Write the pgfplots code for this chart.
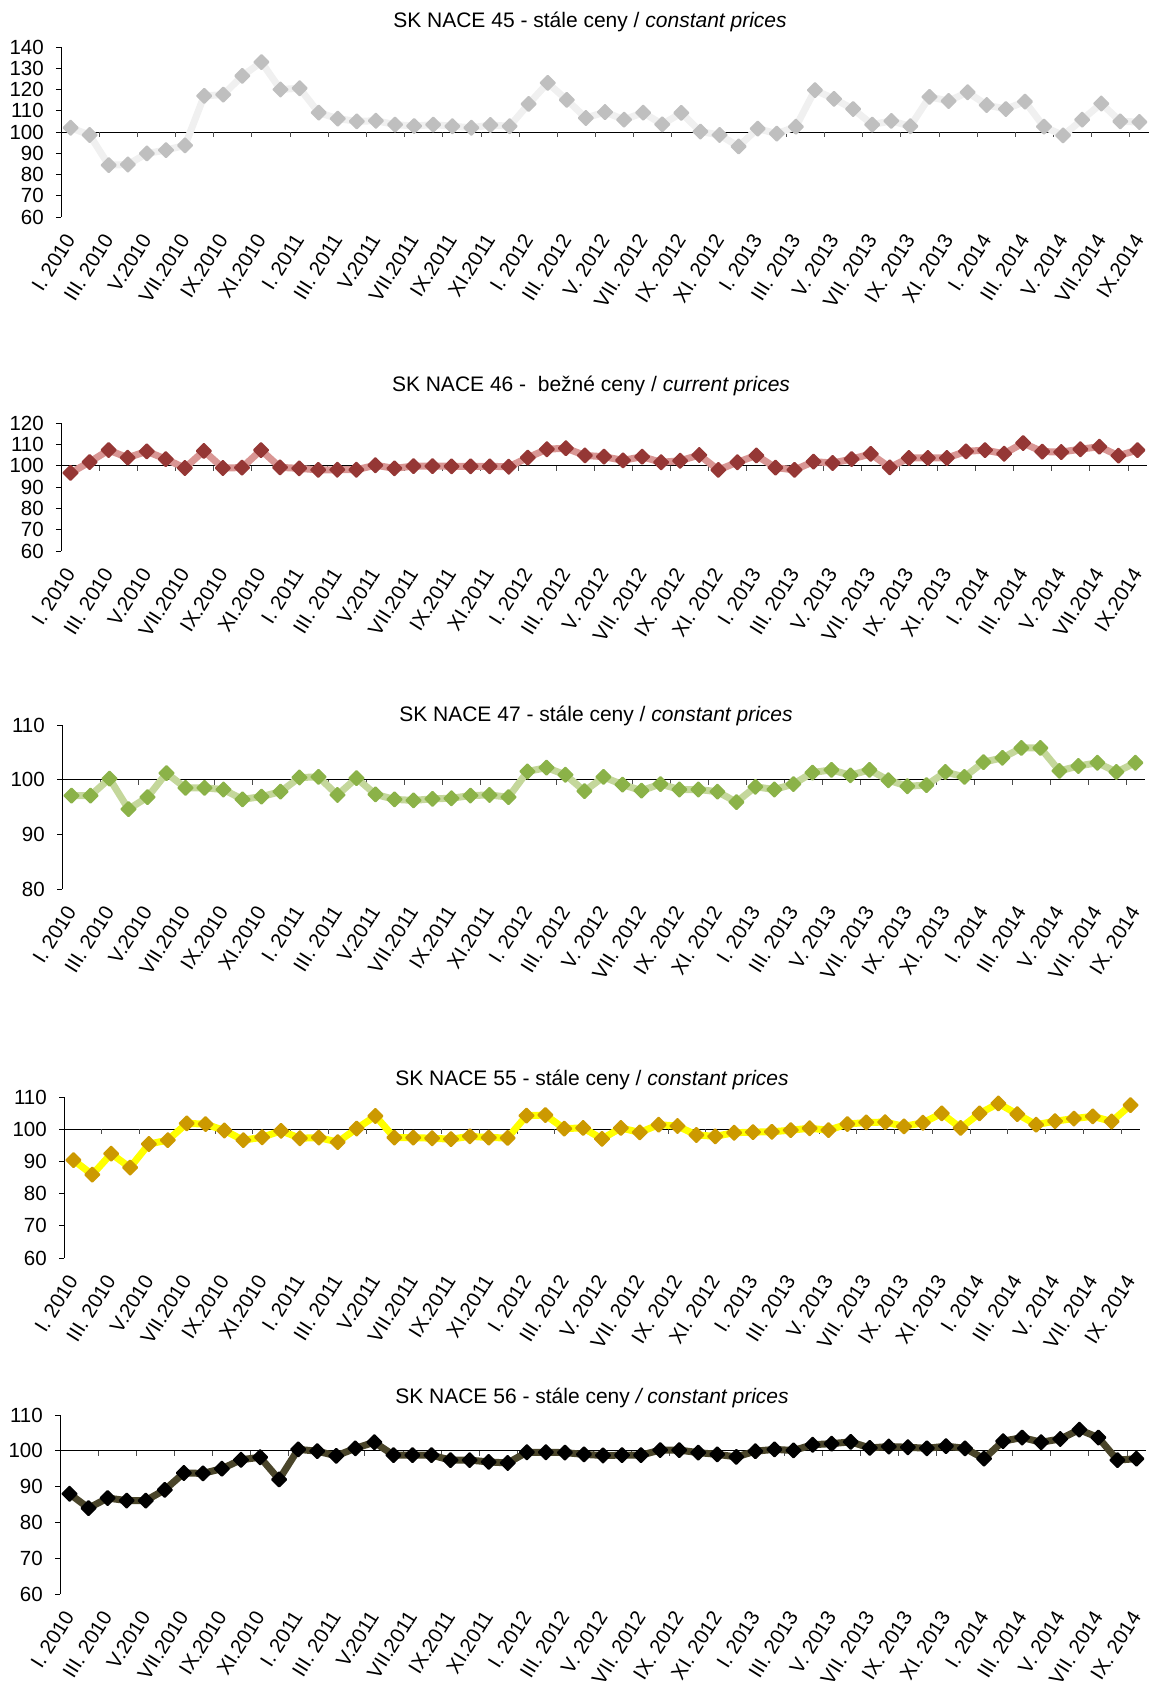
\documentclass[border=0pt]{standalone}
\usepackage{pgfplots}
\usepackage{pgfplotstable}
\pgfplotsset{compat=1.18}
\usepackage{fontspec}
\setmainfont{Liberation Sans}

\newcommand\ticks{\fontsize{20.5}{24}\selectfont}
\newcommand\ttl{\fontsize{21}{25}\selectfont}

\definecolor{gline}{RGB}{240,240,240}
\definecolor{gmark}{RGB}{191,191,191}
\definecolor{rline}{RGB}{217,150,148}
\definecolor{rmark}{RGB}{149,55,53}
\definecolor{vline}{RGB}{196,215,155}
\definecolor{vmark}{RGB}{139,178,72}
\definecolor{yline}{RGB}{255,255,0}
\definecolor{ymark}{RGB}{204,153,0}
\definecolor{kline}{RGB}{74,69,42}
\definecolor{kmark}{RGB}{0,0,0}

% SK NACE 45, constant prices
\pgfplotstableread[row sep=\\]{v\\102\\98.6\\84.4\\84.7\\89.9\\91.5\\93.7\\117\\117.6\\126.4\\132.9\\120\\120.6\\109.1\\106.3\\105\\105.3\\103.5\\102.8\\103.5\\102.7\\102\\103.3\\102.7\\113.2\\123.1\\115.1\\106.6\\109.4\\105.8\\109.1\\103.6\\109\\100.2\\98.6\\93.2\\101.6\\99.2\\102.5\\119.7\\115.6\\110.8\\103.5\\105.2\\102.7\\116.5\\114.6\\118.7\\112.7\\110.8\\114.3\\102.5\\98.4\\105.8\\113.4\\105\\104.7\\}\naceA
% SK NACE 46, current prices
\pgfplotstableread[row sep=\\]{v\\96.6\\101.7\\107.3\\103.75\\106.7\\103.1\\98.9\\106.9\\98.9\\99.1\\107.3\\99.2\\98.75\\98\\98.1\\98.1\\100.2\\98.75\\99.8\\99.8\\99.7\\99.7\\99.7\\99.5\\103.75\\107.7\\108.2\\104.8\\104.2\\102.5\\104.2\\101.6\\102.3\\105\\98\\101.6\\104.8\\99.1\\98\\101.9\\101.25\\103.1\\105.5\\99.2\\103.6\\103.6\\103.6\\106.7\\107.3\\105.6\\110.6\\106.6\\106.4\\107.7\\108.9\\104.7\\107.3\\}\naceB
% SK NACE 47, constant prices
\pgfplotstableread[row sep=\\]{v\\97.1\\97.1\\100.2\\94.6\\96.8\\101.2\\98.5\\98.5\\98.2\\96.4\\96.9\\97.8\\100.4\\100.5\\97.2\\100.3\\97.3\\96.4\\96.2\\96.5\\96.6\\97.1\\97.2\\96.8\\101.5\\102.2\\100.9\\97.9\\100.5\\99.1\\98\\99.2\\98.2\\98.2\\97.8\\95.9\\98.7\\98.2\\99.2\\101.3\\101.8\\100.8\\101.8\\99.9\\98.8\\99\\101.4\\100.5\\103.2\\104\\105.8\\105.8\\101.6\\102.5\\103.1\\101.4\\103.1\\}\naceC
% SK NACE 55, constant prices
\pgfplotstableread[row sep=\\]{v\\90.4\\85.9\\92.4\\88.1\\95.4\\96.6\\101.8\\101.6\\99.6\\96.6\\97.5\\99.5\\97.2\\97.4\\96\\100.2\\104.1\\97.4\\97.4\\97.2\\96.9\\97.8\\97.4\\97.3\\104.2\\104.4\\100.2\\100.4\\97\\100.4\\99\\101.4\\101\\98.2\\97.8\\98.9\\99.1\\99.2\\99.7\\100.3\\99.7\\101.6\\102.1\\102.2\\100.9\\102\\104.9\\100.4\\104.9\\108\\104.7\\101.4\\102.5\\103.3\\104\\102.4\\107.5\\}\naceD
% SK NACE 56, constant prices
\pgfplotstableread[row sep=\\]{v\\88\\84\\86.8\\86.1\\86.1\\89.1\\93.8\\93.7\\95\\97.5\\98.2\\92\\100.4\\99.9\\98.6\\100.7\\102.4\\98.8\\98.8\\98.8\\97.4\\97.4\\96.9\\96.6\\99.6\\99.6\\99.5\\99\\98.7\\98.8\\98.8\\100.2\\100.2\\99.5\\99\\98.3\\99.9\\100.4\\100.1\\101.7\\102\\102.5\\100.8\\101.2\\101\\100.7\\101.3\\100.7\\97.8\\102.7\\103.7\\102.4\\103.3\\105.9\\103.7\\97.4\\97.8\\}\naceE

\pgfplotsset{
  nace/.style={
    scale only axis, clip=false,
    anchor=north west,
    axis y line*=left, axis x line*=bottom,
    x axis line style={draw=none},
    y axis line style={black, line width=0.8pt, -},
    xmin=-0.5, xmax=56.5,
    xtick={0,2,...,56},
    x tick style={draw=none},
    ytick style={black, line width=0.8pt},
    tick align=outside, major tick length=5pt,
    xticklabel style={font=\ticks, yshift=-13pt, rotate=58, anchor=east, inner sep=1pt},
    yticklabel style={font=\ticks, inner sep=2pt, xshift=-10pt},
    /pgf/number format/assume math mode=true,
  },
  labA/.style={xticklabels={I. 2010,III. 2010,V.2010,VII.2010,IX.2010,XI.2010,I. 2011,III. 2011,V.2011,VII.2011,IX.2011,XI.2011,I. 2012,III. 2012,V. 2012,VII. 2012,IX. 2012,XI. 2012,I. 2013,III. 2013,V. 2013,VII. 2013,IX. 2013,XI. 2013,I. 2014,III. 2014,V. 2014,VII.2014,IX.2014}},
  labB/.style={xticklabels={I. 2010,III. 2010,V.2010,VII.2010,IX.2010,XI.2010,I. 2011,III. 2011,V.2011,VII.2011,IX.2011,XI.2011,I. 2012,III. 2012,V. 2012,VII. 2012,IX. 2012,XI. 2012,I. 2013,III. 2013,V. 2013,VII. 2013,IX. 2013,XI. 2013,I. 2014,III. 2014,V. 2014,VII. 2014,IX. 2014}},
  ser/.style 2 args={color=#1, line width=7pt, line join=round,
    mark=square*, mark size=5pt,
    mark options={rotate=45, draw=#2, fill=#2, line width=2pt, line join=round}},
}

\newcommand\hundred{%
  \draw[black, line width=0.8pt] (axis cs:-0.5,100) -- (axis cs:56.5,100);
  \pgfplotsinvokeforeach{1.5,3.5,...,55.5}{\draw[black!70, line width=0.8pt] (axis cs:##1,100) -- ([yshift=-5pt]axis cs:##1,100);}
}

\begin{document}
\begin{tikzpicture}
\useasboundingbox (0pt,0pt) rectangle (1154pt,-1684pt);

% --- NACE 45
\node[font=\ttl] at (590pt,-22pt) {SK NACE 45 - stále ceny / \textit{constant prices}};
\begin{axis}[nace, labA, at={(61pt,-47pt)}, width=1088pt, height=170pt,
  ymin=60, ymax=140, ytick={60,70,...,140}]
\hundred
\addplot[ser={gline}{gmark}] table[x expr=\coordindex, y=v] {\naceA};
\end{axis}

% --- NACE 46
\node[font=\ttl] at (591pt,-386pt) {SK NACE 46 - \ bežné ceny / \textit{current prices}};
\begin{axis}[nace, labA, at={(61pt,-423pt)}, width=1086pt, height=128pt,
  ymin=60, ymax=120, ytick={60,70,...,120}]
\hundred
\addplot[ser={rline}{rmark}] table[x expr=\coordindex, y=v] {\naceB};
\end{axis}

% --- NACE 47
\node[font=\ttl] at (596pt,-716pt) {SK NACE 47 - stále ceny / \textit{constant prices}};
\begin{axis}[nace, labB, at={(62pt,-725pt)}, width=1083pt, height=164pt,
  ymin=80, ymax=110, ytick={80,90,...,110}]
\hundred
\addplot[ser={vline}{vmark}] table[x expr=\coordindex, y=v] {\naceC};
\end{axis}

% --- NACE 55
\node[font=\ttl] at (592pt,-1080pt) {SK NACE 55 - stále ceny / \textit{constant prices}};
\begin{axis}[nace, labB, at={(64pt,-1097pt)}, width=1076pt, height=161pt,
  ymin=60, ymax=110, ytick={60,70,...,110}]
\hundred
\addplot[ser={yline}{ymark}] table[x expr=\coordindex, y=v] {\naceD};
\end{axis}

% --- NACE 56
\node[font=\ttl] at (592pt,-1398pt) {SK NACE 56 - stále ceny \textit{/ constant prices}};
\begin{axis}[nace, labB, at={(60pt,-1415pt)}, width=1086pt, height=179pt,
  ymin=60, ymax=110, ytick={60,70,...,110}]
\hundred
\addplot[ser={kline}{kmark}] table[x expr=\coordindex, y=v] {\naceE};
\end{axis}
\end{tikzpicture}
\end{document}
